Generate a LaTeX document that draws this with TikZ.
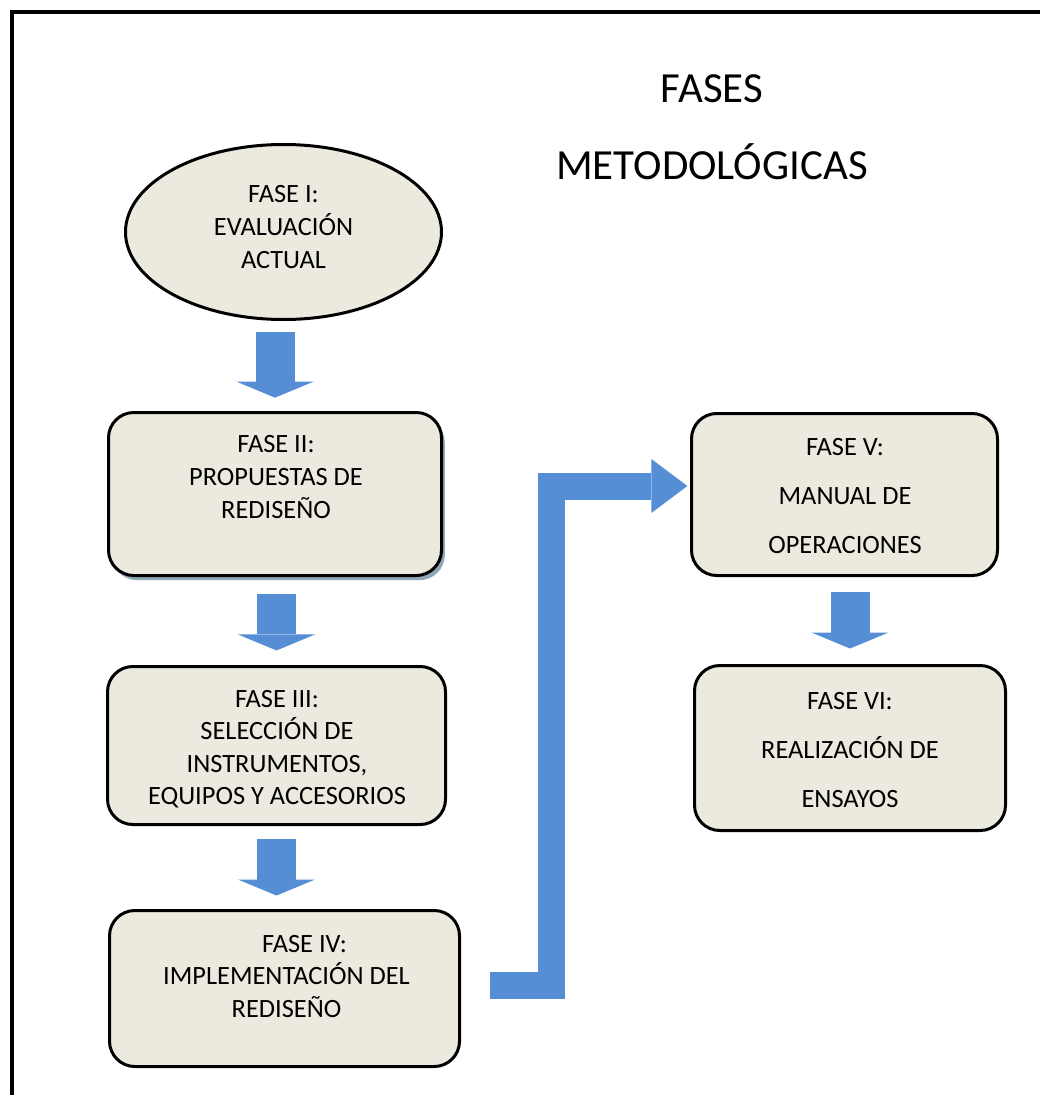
\documentclass[tikz,border=0pt]{standalone}
\usepackage{fontspec}
\setmainfont{Carlito}
\usetikzlibrary{shapes.geometric,arrows.meta,shadows}
\definecolor{faseFill}{HTML}{ECEADF}
\definecolor{flechaAzul}{HTML}{558ED5}
\definecolor{sombraFase}{HTML}{8FA8B8}
\tikzset{
  fase/.style={draw=black, line width=2.25pt, fill=faseFill, rounded corners=19pt, inner sep=0pt},
  faseElipse/.style={ellipse, draw=black, line width=2.25pt, fill=faseFill, inner sep=0pt},
  textoFase/.style={align=center, inner sep=0pt, font=\fontsize{19.8}{24.4}\selectfont},
  textoFaseAncho/.style={align=center, inner sep=0pt, font=\fontsize{19.8}{36.75}\selectfont},
  flecha/.style={draw=flechaAzul, line width=29.25pt, -{Triangle[width=57.75pt,length=12pt,line width=0pt]}},
  flechaCodo/.style={draw=flechaAzul, line width=20.25pt, line join=miter, -{Triangle[width=40.5pt,length=27pt,line width=0pt]}}
}
\begin{document}
\begin{tikzpicture}[x=0.75pt, y=-0.75pt]
  \useasboundingbox (0,0) rectangle (1039,1095);
  \draw[line width=2.6pt] (12,1110) -- (12,12) -- (1055,12);
  \node[align=center, inner sep=0pt, font=\fontsize{32.2}{57.75}\selectfont] (titulo) at (712,127.5) {FASES\\METODOLÓGICAS};

  \node[faseElipse, minimum width=237pt, minimum height=131.25pt] (f1) at (283.5,232) {};
  \node[fase, minimum width=249.75pt, minimum height=122.25pt,
        drop shadow={shadow xshift=2.5pt, shadow yshift=-3.5pt, fill=sombraFase, opacity=1}] (f2) at (275,494) {};
  \node[fase, minimum width=253.5pt, minimum height=118.5pt] (f3) at (276.5,745.5) {};
  \node[fase, minimum width=262.5pt, minimum height=117pt] (f4) at (284.5,988.5) {};
  \node[fase, minimum width=229.5pt, minimum height=121.5pt] (f5) at (844.5,494.5) {};
  \node[fase, minimum width=233.25pt, minimum height=123.75pt] (f6) at (850,748) {};

  \node[textoFase] (t1) at (283.5,227) {FASE I:\\EVALUACIÓN\\ACTUAL};
  \node[textoFase] (t2) at (276,477) {FASE II:\\PROPUESTAS DE\\REDISEÑO};
  \node[textoFase] (t3) at (277,749) {FASE III:\\SELECCIÓN DE\\INSTRUMENTOS,\\EQUIPOS Y ACCESORIOS};
  \node[textoFase] (t4) at (286.5,976.5) {\hspace*{27pt}FASE IV:\\IMPLEMENTACIÓN DEL\\REDISEÑO};
  \node[textoFaseAncho] (t5) at (845,496.5) {FASE V:\\MANUAL DE\\OPERACIONES};
  \node[textoFaseAncho] (t6) at (850,750) {FASE VI:\\REALIZACIÓN DE\\ENSAYOS};

  \draw[flecha, shorten <=8.6pt, shorten >=10pt] (f1.south -| f2.north) -- (f2.north);
  \draw[flecha, shorten <=12.4pt, shorten >=10.9pt] (f2.south -| f3.north) -- (f3.north);
  \draw[flecha, shorten <=9.4pt, shorten >=10.1pt] (f3.south) -- (f3.south |- f4.north);
  \draw[flecha, shorten <=11.6pt, shorten >=11.6pt] (f5.south -| f6.north) -- (f6.north);

  \coordinate (salida) at ([shift={(29,-3)}]f4.east);
  \coordinate (codo) at (551.5,486);
  \draw[flechaCodo, shorten >=2pt] (salida) -| (codo) -- (codo -| f5.west);
\end{tikzpicture}
\end{document}
